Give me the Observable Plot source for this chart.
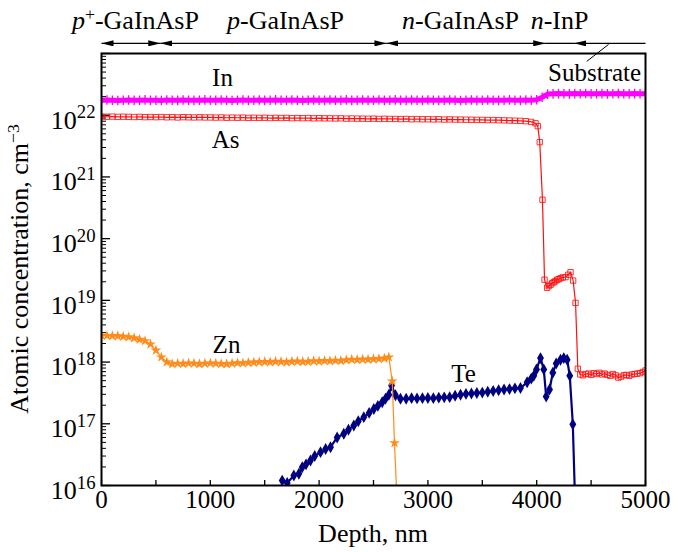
<!DOCTYPE html>
<html><head><meta charset="utf-8">
<script src="https://cdn.jsdelivr.net/npm/d3@7"></script>
<script src="https://cdn.jsdelivr.net/npm/@observablehq/plot@0.6"></script>
<style>html,body{margin:0;padding:0;background:#fff}svg{display:block}</style>
</head><body><div id="chart"></div>
<script>
// ---------- data ----------
const depth50 = [0,50,100,150,200,250,300,350,400,450,500,550,600,650,700,750,800,850,900,950,
 1000,1050,1100,1150,1200,1250,1300,1350,1400,1450,1500,1550,1600,1650,1700,1750,1800,1850,1900,1950,
 2000,2050,2100,2150,2200,2250,2300,2350,2400,2450,2500,2550,2600,2650,2700,2750,2800,2850,2900,2950,
 3000,3050,3100,3150,3200,3250,3300,3350,3400,3450,3500,3550,3600,3650,3700,3750,3800,3850,3900,3950,
 4000,4050,4100,4150,4200,4250,4300,4350,4400,4450,4500,4550,4600,4650,4700,4750,4800,4850,4900,4950,5000];

// In, units of 1e22 cm^-3, at depth50
const inConc = [1.74,1.76,1.75,1.73,1.75,1.76,1.74,1.75,1.77,1.74,
 1.75,1.73,1.76,1.75,1.74,1.76,1.75,1.74,1.75,1.77,
 1.75,1.74,1.76,1.75,1.73,1.75,1.76,1.74,1.75,1.76,
 1.74,1.75,1.77,1.75,1.74,1.76,1.75,1.73,1.75,1.76,
 1.75,1.74,1.76,1.75,1.75,1.77,1.74,1.75,1.76,1.74,
 1.75,1.76,1.74,1.75,1.77,1.75,1.74,1.76,1.75,1.74,
 1.76,1.75,1.74,1.75,1.76,1.75,1.73,1.75,1.76,1.74,
 1.75,1.76,1.75,1.74,1.75,1.77,1.75,1.74,1.76,1.75,
 1.78,1.95,2.20,2.22,2.24,2.23,2.22,2.24,2.23,2.25,
 2.22,2.23,2.24,2.22,2.23,2.24,2.23,2.22,2.24,2.23,2.23];

// As, units of 1e21 cm^-3, at depth50 for 0..3950
const asConc = [9.5,9.45,9.5,9.4,9.45,9.4,9.35,9.4,9.3,9.35,
 9.3,9.35,9.25,9.3,9.2,9.3,9.25,9.2,9.25,9.2,
 9.2,9.15,9.2,9.1,9.15,9.1,9.15,9.05,9.1,9.05,
 9.1,9.0,9.05,9.0,9.05,8.95,9.0,8.95,9.0,8.9,
 8.95,8.9,8.9,8.85,8.9,8.8,8.85,8.8,8.8,8.75,
 8.8,8.7,8.75,8.7,8.7,8.65,8.7,8.6,8.65,8.6,
 8.6,8.55,8.6,8.5,8.55,8.5,8.5,8.45,8.45,8.4,
 8.4,8.35,8.35,8.3,8.25,8.2,8.15,8.1,8.0,7.8];
const asTailDepth = [3989,4010,4028,4053,4072,4096,4110,4127,4142,4157,4172,4188,4203,4219,4240,
 4265,4290,4311,4335,4357,4378,4400,4425,4450,4475,4500,4525,4550,4575,4600,4625,4650,4675,4700,
 4725,4750,4775,4800,4825,4850,4875,4900,4925,4950,4975,5000];
const asTailConc = [7.4e21,6.65e21,3.66e21,4.27e20,2.16e19,1.6e19,1.7e19,1.79e19,1.9e19,1.97e19,
 2.05e19,2.16e19,2.2e19,2.29e19,2.35e19,2.38e19,2.6e19,2.86e19,2.09e19,9.1e18,7.8e17,
 6.3e17,6.1e17,6.4e17,6.5e17,6.2e17,6.6e17,6.4e17,6.7e17,6.3e17,6.5e17,6.2e17,6.0e17,6.4e17,
 6.1e17,5.6e17,5.8e17,6.1e17,6.2e17,6.0e17,6.3e17,6.4e17,6.5e17,6.6e17,6.9e17,7.3e17];

// Zn, units of 1e18 cm^-3, at depth50 for 0..2600
const znConc = [2.7,2.68,2.66,2.64,2.6,2.55,2.45,2.32,2.2,1.95,
 1.55,1.2,1.0,0.93,0.95,0.94,0.96,0.95,0.93,0.95,
 0.96,0.95,0.94,0.93,0.95,0.97,0.96,0.98,0.99,1.0,
 1.01,1.0,1.02,1.01,1.0,1.02,1.03,1.01,1.02,1.04,
 1.03,1.05,1.04,1.06,1.05,1.08,1.1,1.09,1.11,1.1,
 1.12,1.13,1.15];
const znTailDepth = [2641,2672,2693,2720];
const znTailConc = [1.2e18,4.9e17,4.9e16,4e15];

// Te
const teDepth = [1661,1707,1768,1814,1845,1880,1921,1960,2013,2060,2105,2166,2227,2270,2319,2360,
 2411,2460,2503,2540,2580,2610,2641,2666,2702,2748,2800,2850,2900,2950,3000,3050,3100,3150,3200,
 3250,3300,3350,3400,3450,3500,3550,3600,3650,3700,3750,3800,3851,3912,3950,3973,3998,4035,4065,
 4087,4118,4148,4179,4219,4249,4280,4304,4332,4365];
const teConc = [1.2e16,1.1e16,1.45e16,1.55e16,1.98e16,2.2e16,2.54e16,3.0e16,3.47e16,3.9e16,4.17e16,
 6.0e16,6.9e16,8.0e16,9.4e16,1.1e17,1.28e17,1.5e17,1.74e17,1.95e17,2.23e17,2.55e17,2.95e17,4.17e17,
 2.9e17,2.54e17,2.55e17,2.6e17,2.58e17,2.6e17,2.62e17,2.6e17,2.65e17,2.68e17,2.7e17,2.85e17,2.95e17,
 3.05e17,3.1e17,3.15e17,3.2e17,3.3e17,3.4e17,3.5e17,3.6e17,3.65e17,3.75e17,3.8e17,4.7e17,5.4e17,
 6.0e17,7.6e17,1.16e18,7.6e17,2.76e17,3.6e17,6.7e17,9.5e17,1.09e18,1.16e18,1.09e18,6.0e17,9.8e16,1e15];

// annotations
const seriesLabels = ["In","As","Zn","Te"];
const seriesLabelDepth = [1112,1140,1149,3327];
const seriesLabelConc = [3.95e22,3.9e21,1.86e18,6.5e17];

const layerPrefix = ["p","p","n","n"];
const layerSup = ["+","","",""];
const layerRest = ["-GaInAsP","-GaInAsP","-GaInAsP","-InP"];
const layerCenter = [312,1691,3300,4210];
const layerTextConc = 3.4e23;
const arrowConc = 1.46e23;
const layerBounds = [0,540,2619,4078,4344,5000];

const substrateText = "Substrate";
const substrateDepth = 4960, substrateConc = 4.75e22;
const leader = {x1:4460, y1:7.45e22, x2:4660, y2:1.4e23};

const xMajor = [0,1000,2000,3000,4000,5000];
const xMinor = [500,1500,2500,3500,4500];
const yMajor = [1e16,1e17,1e18,1e19,1e20,1e21,1e22,1e23];
const yLabels = [1e16,1e17,1e18,1e19,1e20,1e21,1e22];
const yMinor = [];
for (let e = 16; e < 23; e++) for (let m = 2; m <= 9; m++) yMinor.push(m * Math.pow(10, e));

// ---------- tables ----------
const inData = depth50.map((d, i) => ({depth: d, conc: inConc[i] * 1e22}));
const asData = asConc.map((v, i) => ({depth: depth50[i], conc: v * 1e21}))
  .concat(asTailDepth.map((d, i) => ({depth: d, conc: asTailConc[i]})));
const znData = znConc.map((v, i) => ({depth: depth50[i], conc: v * 1e18}))
  .concat(znTailDepth.map((d, i) => ({depth: d, conc: znTailConc[i]})));
const teData = teDepth.map((d, i) => ({depth: d, conc: teConc[i]}));
const labels = seriesLabels.map((t, i) => ({t, depth: seriesLabelDepth[i], conc: seriesLabelConc[i]}));
const layers = layerPrefix.map((p, i) => ({t: p + layerSup[i] + layerRest[i], depth: layerCenter[i], conc: layerTextConc}));
const segs = d3.pairs(layerBounds).map(([a, b], i) => ({x1: a, x2: b, y: arrowConc, kind: i < 3 ? "both" : (i === 3 ? "none" : "start")}));

const W = 678, H = 552, mL = 101, mR = 33, mT = 53, mB = 67;
const FONT = "'Liberation Serif','Times New Roman',Times,serif";
const cIn = "#ff00ff", cAs = "#ff1010", cZn = "#ff8c1a", cTe = "#000080";
const noText = () => "";

const svg = Plot.plot({
  width: W, height: H, marginLeft: mL, marginRight: mR, marginTop: mT, marginBottom: mB,
  x: {domain: [0, 5000]},
  y: {type: "log", domain: [1e16, 1e23]},
  style: {fontFamily: FONT, fontSize: "25px", color: "#000", background: "#fff", overflow: "visible"},
  marks: [
    Plot.axisX({ticks: xMajor.concat(xMinor), tickSize: -5, tickFormat: noText, label: null, strokeWidth: 1.3}),
    Plot.axisX({ticks: xMajor, tickSize: 0, tickPadding: 5, tickFormat: d => String(d), label: null, fontSize: 25}),
    Plot.axisY({ticks: yMajor, tickSize: -9, tickFormat: noText, label: null, strokeWidth: 1.3}),
    Plot.axisY({ticks: yMinor, tickSize: -5, tickFormat: noText, label: null, strokeWidth: 1}),
    Plot.axisY({ticks: yLabels, tickSize: 0, tickPadding: 6, tickFormat: d => String(Math.round(Math.log10(d))), label: null, dy: 5, fontSize: 26}),
    // In
    Plot.line(inData, {x: "depth", y: "conc", stroke: cIn, strokeWidth: 5, clip: true}),
    Plot.dot(inData, {x: "depth", y: "conc", symbol: "plus", r: 3.2, stroke: cIn, strokeWidth: 1.3, clip: true}),
    // As
    Plot.line(asData, {x: "depth", y: "conc", stroke: cAs, strokeWidth: 1.2, clip: true}),
    Plot.dot(asData, {x: "depth", y: "conc", symbol: "square2", r: 3.4, stroke: cAs, strokeWidth: 1, strokeOpacity: 0.85, clip: true}),
    // Te
    Plot.line(teData, {x: "depth", y: "conc", stroke: cTe, strokeWidth: 2.2, clip: true}),
    Plot.dot(teData, {x: "depth", y: "conc", symbol: "diamond", r: 3.6, fill: cTe, clip: true}),
    // Zn
    Plot.line(znData, {x: "depth", y: "conc", stroke: cZn, strokeWidth: 1.2, clip: true}),
    Plot.dot(znData, {x: "depth", y: "conc", symbol: "star", r: 3.4, fill: cZn, clip: true}),
    // annotations
    Plot.text(labels, {x: "depth", y: "conc", text: "t", fontSize: 25, fill: "#000"}),
    Plot.text([{t: substrateText, depth: substrateDepth, conc: substrateConc}], {x: "depth", y: "conc", text: "t", fontSize: 25, textAnchor: "end", fill: "#000"}),
    Plot.link([leader], {x1: "x1", y1: "y1", x2: "x2", y2: "y2", stroke: "#000", strokeWidth: 1}),
    Plot.link(segs, {x1: "x1", x2: "x2", y1: "y", y2: "y", stroke: "#000", strokeWidth: 1.3, ariaLabel: d => "arrow-" + d.kind}),
    Plot.text(layers, {x: "depth", y: "conc", text: "t", fontSize: 26, fill: "#000", ariaLabel: () => "layer-label"}),
    Plot.frame({stroke: "#000", strokeWidth: 2})
  ]
});

const s = d3.select(svg);
// remove empty tick-label texts of the tick-only axes
s.selectAll('g[aria-label="x-axis tick label"] text, g[aria-label="y-axis tick label"] text').each(function () {
  if (this.textContent === "") this.remove();
});
// arrowhead marker
const defs = s.insert("defs", ":first-child");
defs.append("marker").attr("id", "ah").attr("viewBox", "0 0 10 10").attr("refX", 10).attr("refY", 5)
  .attr("markerWidth", 12).attr("markerHeight", 6).attr("markerUnits", "userSpaceOnUse")
  .attr("preserveAspectRatio", "none").attr("orient", "auto-start-reverse")
  .append("path").attr("d", "M0,0L10,5L0,10Z").attr("fill", "#000");
s.selectAll('[aria-label="arrow-both"]').attr("marker-start", "url(#ah)").attr("marker-end", "url(#ah)");
s.selectAll('[aria-label="arrow-start"]').attr("marker-start", "url(#ah)");

// y tick labels as 10^n
s.selectAll('g[aria-label="y-axis tick label"] text').each(function () {
  const t = d3.select(this); const e = t.text(); if (!e) return; t.text("");
  t.append("tspan").text("10");
  t.append("tspan").attr("dy", "-0.55em").attr("font-size", "0.72em").text(e);
});

// layer labels with italic prefix and superscript
s.selectAll('text[aria-label="layer-label"]').each(function (_, i) {
  const t = d3.select(this); t.text("");
  t.append("tspan").attr("font-style", "italic").text(layerPrefix[i]);
  if (layerSup[i]) {
    t.append("tspan").attr("dy", "-0.5em").attr("font-size", "0.68em").text(layerSup[i]);
    t.append("tspan").attr("dy", "0.34em").text(layerRest[i]);
  } else t.append("tspan").text(layerRest[i]);
});

// axis titles
const cx = mL + (W - mL - mR) / 2, cy = mT + (H - mT - mB) / 2;
s.append("text").attr("x", cx).attr("y", H - 10).attr("text-anchor", "middle")
  .attr("font-family", FONT).attr("font-size", 26).text("Depth, nm");
const yl = s.append("text").attr("transform", `translate(${mL - 73},${cy}) rotate(-90)`)
  .attr("text-anchor", "middle").attr("font-family", FONT).attr("font-size", 26);
yl.append("tspan").text("Atomic concentration, cm");
yl.append("tspan").attr("dy", "-0.5em").attr("font-size", "0.68em").text("\u22123");

document.getElementById("chart").append(svg);
</script>
</body></html>
